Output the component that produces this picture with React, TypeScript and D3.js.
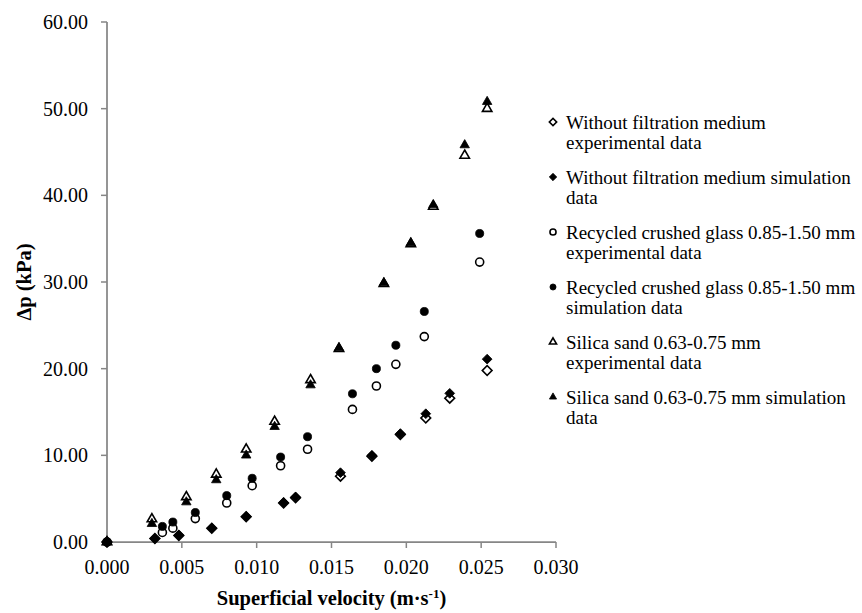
import * as d3 from "d3"

// Superficial velocity (m/s) and pressure drop (kPa)
const noMediumX = [0, 0.0032, 0.0048, 0.0070, 0.0093, 0.0118, 0.0126, 0.0156, 0.0177, 0.0196, 0.0213, 0.0229, 0.0254]
const noMediumExp = [0, 0.4, 0.75, 1.6, 2.9, 4.5, 5.1, 7.6, 9.9, 12.4, 14.3, 16.6, 19.8]
const noMediumSim = [0, 0.4, 0.8, 1.6, 2.95, 4.55, 5.2, 8.0, 10.0, 12.5, 14.8, 17.15, 21.1]

const glassX = [0, 0.0037, 0.0044, 0.0059, 0.0080, 0.0097, 0.0116, 0.0134, 0.0164, 0.0180, 0.0193, 0.0212, 0.0249]
const glassExp = [0, 1.1, 1.6, 2.7, 4.5, 6.5, 8.8, 10.7, 15.3, 18.0, 20.5, 23.7, 32.3]
const glassSim = [0, 1.8, 2.3, 3.4, 5.35, 7.35, 9.8, 12.15, 17.1, 20.0, 22.7, 26.6, 35.6]

const sandX = [0, 0.0030, 0.0053, 0.0073, 0.0093, 0.0112, 0.0136, 0.0155, 0.0185, 0.0203, 0.0218, 0.0239, 0.0254]
const sandExp = [0, 2.65, 5.2, 7.8, 10.7, 13.9, 18.7, 22.3, 29.8, 34.4, 38.7, 44.6, 50.0]
const sandSim = [0, 2.1, 4.6, 7.15, 10.0, 13.3, 18.1, 22.4, 29.9, 34.5, 38.9, 45.8, 50.8]

const xTicks = [0, 0.005, 0.01, 0.015, 0.02, 0.025, 0.03]
const yTicks = [0, 10, 20, 30, 40, 50, 60]

const series = [
  { lines: ["Without filtration medium", "experimental data"], shape: "diamond", filled: false, xs: noMediumX, ys: noMediumExp },
  { lines: ["Without filtration medium simulation", "data"], shape: "diamond", filled: true, xs: noMediumX, ys: noMediumSim },
  { lines: ["Recycled crushed glass 0.85-1.50 mm", "experimental data"], shape: "circle", filled: false, xs: glassX, ys: glassExp },
  { lines: ["Recycled crushed glass 0.85-1.50 mm", "simulation data"], shape: "circle", filled: true, xs: glassX, ys: glassSim },
  { lines: ["Silica sand 0.63-0.75 mm", "experimental data"], shape: "triangle", filled: false, xs: sandX, ys: sandExp },
  { lines: ["Silica sand 0.63-0.75 mm simulation", "data"], shape: "triangle", filled: true, xs: sandX, ys: sandSim },
]

const font = "'Liberation Serif', 'Times New Roman', serif"
const axisColor = "#868686"

function markerPath(shape: string, size: number) {
  if (shape === "circle") return d3.symbol(d3.symbolCircle, size * 1.45)()
  if (shape === "triangle") return d3.symbol(d3.symbolTriangle, size * 1.1)()
  return d3.symbol(d3.symbolSquare, size * 1.35)()
}

function Marker(props: { shape: string; filled: boolean; x: number; y: number; size: number }) {
  const { shape, filled, x, y, size } = props
  const rot = shape === "diamond" ? 45 : 0
  return (
    <path
      d={markerPath(shape, size) ?? ""}
      transform={`translate(${x},${y}) rotate(${rot})`}
      fill={filled ? "#000" : "#fff"}
      stroke="#000"
      strokeWidth={filled ? 0.8 : 1.6}
    />
  )
}

export default function App() {
  const width = 862
  const height = 613
  const left = 107
  const right = 556
  const top = 22
  const bottom = 542

  const x = d3.scaleLinear().domain([0, 0.03]).range([left, right])
  const y = d3.scaleLinear().domain([0, 60]).range([bottom, top])

  const legendX = 553
  const legendY = 122
  const rowGap = 55

  return (
    <svg width={width} height={height} style={{ position: "absolute", left: 0, top: 0, display: "block", background: "#fff" }}
      fontFamily={font}>
      {/* axes */}
      <line x1={left} x2={right} y1={bottom} y2={bottom} stroke={axisColor} strokeWidth={1.75} />
      <line x1={left} x2={left} y1={bottom} y2={top} stroke={axisColor} strokeWidth={1.75} />
      {xTicks.map(t => (
        <g key={"x" + t}>
          <line x1={x(t)} x2={x(t)} y1={bottom} y2={bottom + 6} stroke={axisColor} strokeWidth={1.5} />
          <text x={x(t)} y={bottom + 32} textAnchor="middle" fontSize={20}>{d3.format(".3f")(t)}</text>
        </g>
      ))}
      {yTicks.map(t => (
        <g key={"y" + t}>
          <line x1={left - 6} x2={left} y1={y(t)} y2={y(t)} stroke={axisColor} strokeWidth={1.5} />
          <text x={left - 19} y={y(t)} dy="0.35em" textAnchor="end" fontSize={20}>{d3.format(".2f")(t)}</text>
        </g>
      ))}
      <text x={(left + right) / 2} y={bottom + 63} textAnchor="middle" fontSize={20.5} fontWeight="bold">
        Superficial velocity (m·s<tspan dy={-7} fontSize={13}>-1</tspan><tspan dy={7}>)</tspan>
      </text>
      <text transform={`translate(31,${(top + bottom) / 2}) rotate(-90)`} textAnchor="middle" fontSize={20.5} fontWeight="bold">
        Δp (kPa)
      </text>

      {/* points */}
      {series.map((s, i) => (
        <g key={"s" + i}>
          {s.xs.map((v, j) => (
            <Marker key={j} shape={s.shape} filled={s.filled} x={x(v)} y={y(s.ys[j])} size={35} />
          ))}
        </g>
      ))}

      {/* legend */}
      {series.map((s, i) => (
        <g key={"l" + i} transform={`translate(${legendX},${legendY + i * rowGap})`}>
          <Marker shape={s.shape} filled={s.filled} x={0} y={0} size={20} />
          <text x={13} y={0} fontSize={19}>
            {s.lines.map((ln, k) => (
              <tspan key={k} x={13} dy={k === 0 ? "0.35em" : 20}>{ln}</tspan>
            ))}
          </text>
        </g>
      ))}
    </svg>
  )
}
